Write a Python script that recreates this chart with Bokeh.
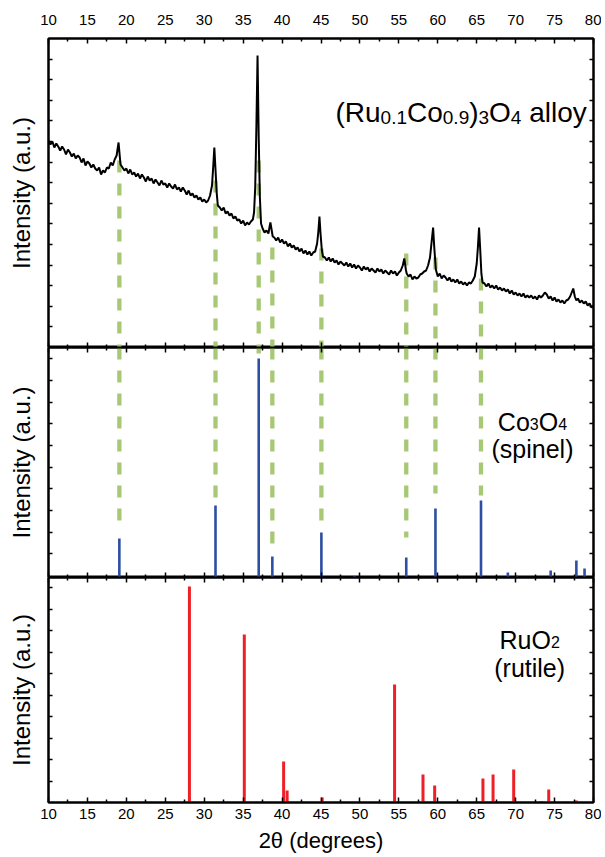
from bokeh.plotting import figure
from bokeh.layouts import column
from bokeh.models import Range1d, FixedTicker, LinearAxis, Label
from bokeh.embed import file_html
from bokeh.resources import INLINE

# ---------------- data ----------------
# measured XRD scan of the (Ru0.1Co0.9)3O4 alloy (arbitrary units)
two_theta = [
    10.00, 10.25, 10.50, 10.75, 11.00, 11.25, 11.50, 11.75, 12.00, 12.25,
    12.50, 12.75, 13.00, 13.25, 13.50, 13.75, 14.00, 14.25, 14.50, 14.75,
    15.00, 15.25, 15.50, 15.75, 16.00, 16.25, 16.50, 16.75, 17.00, 17.25,
    17.50, 17.75, 18.00, 18.25, 18.50, 18.75, 18.90, 19.00, 19.10, 19.25,
    19.50, 19.75, 20.00, 20.25, 20.50, 20.75, 21.00, 21.25, 21.50, 21.75,
    22.00, 22.25, 22.50, 22.75, 23.00, 23.25, 23.50, 23.75, 24.00, 24.25,
    24.50, 24.75, 25.00, 25.25, 25.50, 25.75, 26.00, 26.25, 26.50, 26.75,
    27.00, 27.25, 27.50, 27.75, 28.00, 28.25, 28.50, 28.75, 29.00, 29.25,
    29.50, 29.75, 30.00, 30.25, 30.50, 30.75, 31.00, 31.15, 31.30, 31.45,
    31.60, 31.75, 32.00, 32.25, 32.50, 32.75, 33.00, 33.25, 33.50, 33.75,
    34.00, 34.25, 34.50, 34.75, 35.00, 35.25, 35.50, 35.75, 36.00, 36.25,
    36.40, 36.55, 36.70, 36.85, 37.00, 37.15, 37.30, 37.50, 37.75, 38.00,
    38.25, 38.40, 38.50, 38.65, 38.80, 39.00, 39.25, 39.50, 39.75, 40.00,
    40.25, 40.50, 40.75, 41.00, 41.25, 41.50, 41.75, 42.00, 42.25, 42.50,
    42.75, 43.00, 43.25, 43.50, 43.75, 44.00, 44.25, 44.50, 44.65, 44.80,
    44.95, 45.10, 45.25, 45.50, 45.75, 46.00, 46.25, 46.50, 46.75, 47.00,
    47.25, 47.50, 47.75, 48.00, 48.25, 48.50, 48.75, 49.00, 49.25, 49.50,
    49.75, 50.00, 50.25, 50.50, 50.75, 51.00, 51.25, 51.50, 51.75, 52.00,
    52.25, 52.50, 52.75, 53.00, 53.25, 53.50, 53.75, 54.00, 54.25, 54.50,
    54.75, 55.00, 55.25, 55.50, 55.70, 55.90, 56.00, 56.25, 56.50, 56.75,
    57.00, 57.25, 57.50, 57.75, 58.00, 58.25, 58.50, 58.75, 59.00, 59.20,
    59.40, 59.55, 59.75, 60.00, 60.25, 60.50, 60.75, 61.00, 61.25, 61.50,
    61.75, 62.00, 62.25, 62.50, 62.75, 63.00, 63.25, 63.50, 63.75, 64.00,
    64.25, 64.50, 64.75, 65.00, 65.15, 65.30, 65.45, 65.60, 65.75, 66.00,
    66.25, 66.50, 66.75, 67.00, 67.25, 67.50, 67.75, 68.00, 68.25, 68.50,
    68.75, 69.00, 69.25, 69.50, 69.75, 70.00, 70.25, 70.50, 70.75, 71.00,
    71.25, 71.50, 71.75, 72.00, 72.25, 72.50, 72.75, 73.00, 73.25, 73.50,
    73.75, 74.00, 74.25, 74.50, 74.75, 75.00, 75.25, 75.50, 75.75, 76.00,
    76.25, 76.50, 76.75, 77.00, 77.20, 77.40, 77.60, 77.80, 78.00, 78.25,
    78.50, 78.75, 79.00, 79.25, 79.50, 79.75, 80.00,
]
intensity = [
    207, 203, 206, 200, 204, 201, 197, 201, 198, 193,
    198, 195, 191, 194, 189, 192, 190, 185, 189, 182,
    186, 184, 180, 183, 179, 177, 180, 173, 177, 175,
    180, 179, 185, 182, 188, 192, 200, 205, 196, 183,
    180, 177, 179, 174, 178, 173, 175, 171, 174, 169,
    173, 170, 166, 171, 167, 169, 164, 168, 165, 162,
    167, 163, 164, 160, 164, 161, 159, 163, 158, 160,
    156, 160, 157, 153, 157, 152, 154, 150, 152, 148,
    150, 146, 148, 145, 147, 152, 162, 180, 200, 178,
    155, 142, 140, 137, 140, 134, 136, 132, 134, 129,
    131, 127, 128, 124, 127, 122, 125, 123, 126, 128,
    135, 160, 220, 292, 210, 150, 124, 119, 115, 117,
    114, 121, 125, 118, 111, 110, 107, 110, 105, 108,
    104, 106, 101, 104, 100, 102, 98, 100, 96, 99,
    94, 97, 93, 96, 92, 95, 96, 104, 115, 131,
    113, 98, 91, 90, 87, 90, 86, 89, 85, 87,
    83, 86, 84, 82, 85, 81, 84, 80, 83, 79,
    82, 80, 77, 81, 78, 80, 76, 79, 77, 75,
    79, 76, 78, 74, 77, 75, 73, 77, 74, 76,
    72, 75, 77, 82, 89, 78, 74, 71, 73, 68,
    71, 69, 70, 73, 74, 76, 77, 82, 90, 105,
    120, 100, 78, 71, 74, 69, 72, 70, 67, 70,
    66, 68, 65, 68, 64, 66, 63, 65, 62, 65,
    64, 67, 71, 84, 100, 120, 98, 74, 65, 64,
    61, 64, 60, 62, 59, 62, 58, 60, 57, 59,
    56, 58, 54, 57, 53, 55, 52, 54, 51, 54,
    50, 52, 50, 52, 49, 51, 48, 52, 50, 52,
    55, 53, 49, 51, 47, 50, 46, 48, 45, 47,
    44, 47, 48, 51, 55, 59, 51, 47, 49, 45,
    47, 44, 46, 42, 44, 40, 42,
]

# Co3O4 (spinel) reference pattern
spinel_pos = [19.1, 31.45, 37.0, 38.75, 45.05, 49.3, 55.95, 59.7, 65.55,
              69.0, 70.1, 74.5, 77.8, 78.85]
spinel_int = [39, 72, 219, 21, 45, 1.5, 20, 69, 77, 5, 2, 7, 17, 9]

# RuO2 (rutile) reference pattern
rutile_pos = [28.1, 35.15, 40.2, 40.65, 45.15, 54.45, 58.1, 59.6, 65.8,
              67.1, 69.75, 73.3, 74.25, 76.55, 77.8]
rutile_int = [216, 168, 41, 12, 5, 118, 28, 17, 24, 28, 33, 1.5, 13, 1, 2]

# green guide lines linking the alloy peaks to the spinel sticks
guide_pos = [19.1, 31.45, 37.0, 38.75, 45.05, 55.95, 59.7, 65.55]
guide_start = [187, 167, 187, 100, 99, 94, 90, 69]   # in the alloy panel
guide_end = [52, 80, 224, 32, 50, 40, 84, 82]         # in the spinel panel

x_tick_values = [10, 15, 20, 25, 30, 35, 40, 45, 50, 55, 60, 65, 70, 75, 80]
x_minor_values = [12.5, 17.5, 22.5, 27.5, 32.5, 37.5, 42.5, 47.5, 52.5,
                  57.5, 62.5, 67.5, 72.5, 77.5]

# ---------------- styling helpers ----------------
FONT = "Liberation Sans"
BORDER_L, BORDER_R = 48, 8
FIG_W = BORDER_L + 545 + BORDER_R
H_TOP, H_MID, H_BOT = 309, 230, 225

ADV = {'(': 333, ')': 333, 'R': 722, 'u': 556, 'C': 722, 'o': 556, 'O': 778,
       ' ': 278, 'a': 556, 'l': 222, 'y': 500, '.': 278, 's': 500, 'p': 556,
       'i': 222, 'n': 556, 'e': 556, 'r': 333, 't': 278}
for d in "0123456789":
    ADV[d] = 556


def rich_label(p, x, y, pieces, center):
    widths = [sum(ADV[c] for c in t) * size / 1000.0 for t, size, dy in pieces]
    off = -sum(widths) / 2.0 if center else 0.0
    for (t, size, dy), w in zip(pieces, widths):
        lead = len(t) - len(t.lstrip(" "))
        shown = t.lstrip(" ")
        p.add_layout(Label(x=x, y=y, x_offset=off + lead * ADV[' '] * size / 1000.0,
                           y_offset=dy, text=shown,
                           text_font=FONT, text_font_size=f"{size}px",
                           text_color="black", text_baseline="alphabetic",
                           text_align="left"))
        off += w


def make_axis(ticker, major_in, minor_in, label_size=None, label_standoff=0,
              axis_label=None, axis_label_size="12px", axis_label_standoff=0):
    ax = LinearAxis(ticker=ticker, major_tick_in=major_in, major_tick_out=0,
                    minor_tick_in=minor_in, minor_tick_out=0,
                    axis_line_color="black", axis_line_width=2,
                    major_tick_line_color="black", major_tick_line_width=1.5,
                    minor_tick_line_color="black", minor_tick_line_width=1.5,
                    major_label_text_font=FONT,
                    major_label_standoff=label_standoff)
    if label_size is None:
        ax.major_label_text_font_size = "0px"
        ax.major_label_text_color = None
    else:
        ax.major_label_text_font_size = label_size
        ax.major_label_text_color = "black"
    if axis_label:
        ax.axis_label = axis_label
        ax.axis_label_text_font = FONT
        ax.axis_label_text_font_size = axis_label_size
        ax.axis_label_text_font_style = "normal"
        ax.axis_label_text_color = "black"
        ax.axis_label_standoff = axis_label_standoff
    return ax


x_range = Range1d(10, 80)


def make_panel(height, y_ticks, top_border, bottom_border, top_labels, bottom_labels):
    p = figure(x_range=x_range, y_range=Range1d(0, height),
               width=FIG_W, height=height + top_border + bottom_border,
               output_backend="svg", toolbar_location=None,
               x_axis_location=None, y_axis_location=None,
               min_border_left=BORDER_L, min_border_right=BORDER_R,
               min_border_top=top_border, min_border_bottom=bottom_border,
               background_fill_color="white", border_fill_color="white",
               outline_line_color="black", outline_line_width=2)
    p.grid.visible = False
    xt = FixedTicker(ticks=x_tick_values, minor_ticks=x_minor_values)
    yt = FixedTicker(ticks=y_ticks)
    if top_labels:
        p.add_layout(make_axis(xt, 5, 3, "15px", 14), "above")
    else:
        p.add_layout(make_axis(xt, 5, 3), "above")
    if bottom_labels:
        p.add_layout(make_axis(xt, 5, 3, "15px", 6, "2θ (degrees)", "22px", 6), "below")
    else:
        p.add_layout(make_axis(xt, 5, 3), "below")
    p.add_layout(make_axis(yt, 4, 0, axis_label="Intensity (a.u.)",
                           axis_label_size="24px", axis_label_standoff=14), "left")
    p.add_layout(make_axis(yt, 4, 0), "right")
    return p


GREEN = "#a2c56d"
BLUE = "#2c4ea3"
RED = "#ee2027"

# ---------------- top panel: alloy scan ----------------
p1 = make_panel(H_TOP, [20.6 * k for k in range(1, 15)], 38, 0, True, False)
p1.segment(x0=guide_pos, y0=guide_start, x1=guide_pos, y1=[0] * len(guide_pos),
           line_color=GREEN, line_width=4.3, line_dash="12 11", line_alpha=0.95)
p1.line(two_theta, intensity, line_color="black", line_width=2.0)
rich_label(p1, 46.86, 235, [("(Ru", 28, 0), ("0.1", 19, -5), ("Co", 28, 0),
                            ("0.9", 19, -5), (")", 28, 0), ("3", 19, -5),
                            ("O", 28, 0), ("4", 19, -5), (" alloy", 28, 0)], False)

# ---------------- middle panel: Co3O4 spinel ----------------
p2 = make_panel(H_MID, [23.7 + 21.67 * k for k in range(0, 10)], 0, 0, False, False)
p2.segment(x0=guide_pos, y0=[H_MID] * len(guide_pos), x1=guide_pos, y1=guide_end,
           line_color=GREEN, line_width=4.3, line_dash="12 11", line_alpha=0.95)
p2.segment(x0=spinel_pos, y0=[0] * len(spinel_pos), x1=spinel_pos, y1=spinel_int,
           line_color=BLUE, line_width=2.6)
rich_label(p2, 72.16, 156, [("Co", 25, 0), ("3", 16, -2), ("O", 25, 0), ("4", 16, -2)], True)
rich_label(p2, 72.16, 129, [("(spinel)", 25, 0)], True)

# ---------------- bottom panel: RuO2 rutile ----------------
p3 = make_panel(H_BOT, [21.5 * k for k in range(1, 11)], 0, 54, False, True)
p3.segment(x0=rutile_pos, y0=[0] * len(rutile_pos), x1=rutile_pos, y1=rutile_int,
           line_color=RED, line_width=3)
rich_label(p3, 71.8, 163, [("RuO", 25, 0), ("2", 16, -2)], True)
rich_label(p3, 71.8, 135, [("(rutile)", 25, 0)], True)

layout = column(p1, p2, p3, spacing=0)
open("out.html", "w").write(file_html(layout, INLINE))
